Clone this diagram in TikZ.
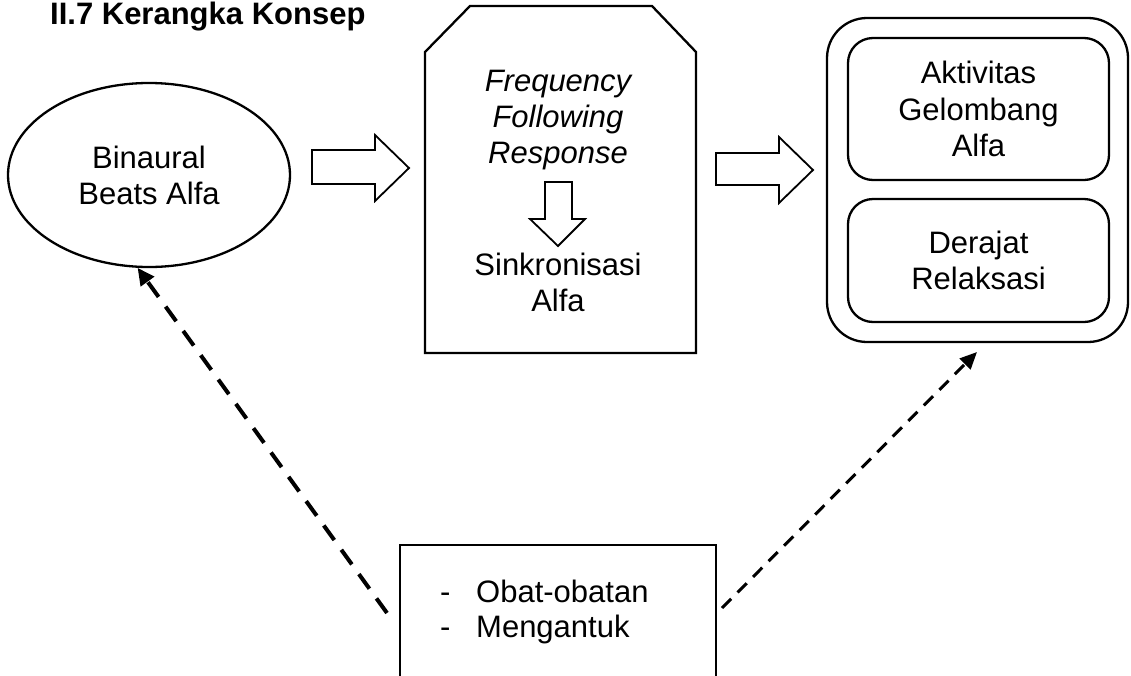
\documentclass[tikz,border=0pt]{standalone}
\usepackage{fontspec}
\setmainfont{Liberation Sans}
\usetikzlibrary{shapes.geometric,arrows.meta}
\begin{document}
\begin{tikzpicture}[x=1pt,y=-1pt,
  txt/.style={align=center,inner sep=0pt,font=\fontsize{31}{36}\selectfont},
  shapeline/.style={line width=2.3pt,draw=black},
  blockarrow/.style={line width=1.8pt,draw=black,fill=white,line join=miter},
  rbox/.style={shapeline,rounded corners=25pt,minimum width=261pt,minimum height=142pt,inner sep=0pt,align=center,font=\fontsize{31}{36.5}\selectfont},
  dashA/.style={line width=4pt,dash pattern=on 18pt off 12pt,-{Triangle[length=17pt,width=16pt]}},
  dashB/.style={line width=3pt,dash pattern=on 13pt off 9pt,-{Triangle[length=17pt,width=15pt]}}]
\useasboundingbox (0,0) rectangle (1131,675);
\fill[white] (0,0) rectangle (1131,675);

% title
\node[anchor=base west,inner sep=0pt,font=\bfseries\fontsize{31}{36}\selectfont] (title) at (50,24) {II.7 Kerangka Konsep};

% ellipse
\node[ellipse,shapeline,minimum width=282pt,minimum height=184pt,inner sep=0pt,txt] (ell) at (149,175) {Binaural\\Beats Alfa};

% middle shape
\coordinate (m1) at (425,353);
\coordinate (m2) at (425,52);
\coordinate (m3) at (470,6);
\coordinate (m4) at (652,6);
\coordinate (m5) at (696,52);
\coordinate (m6) at (696,353);
\draw[shapeline,line join=miter] (m1) -- (m2) -- (m3) -- (m4) -- (m5) -- (m6) -- cycle;
\node[txt,font=\itshape\fontsize{31}{36}\selectfont] (ffr) at (558,120) {Frequency\\Following\\Response};
\node[txt] (sink) at (558,282) {Sinkronisasi\\Alfa};

% block arrows
\draw[blockarrow] (312,150) -- (375,150) -- (375,135) -- (409,168) -- (375,201) -- (375,184) -- (312,184) -- cycle;
\draw[blockarrow] (716,153) -- (779,153) -- (779,137) -- (813,170) -- (779,203) -- (779,185) -- (716,185) -- cycle;
\draw[blockarrow] (545,182) -- (572,182) -- (572,219) -- (585,219) -- (558,246) -- (530,219) -- (545,219) -- cycle;

% right group
\node[shapeline,rounded corners=40pt,minimum width=301pt,minimum height=324pt,inner sep=0pt] (outer) at (977.5,180) {};
\node[rbox] (akt) at (978.5,109) {Aktivitas\\Gelombang\\Alfa};
\node[rbox,minimum height=123pt] (der) at (978.5,260.5) {Derajat\\Relaksasi};

% bottom box
\node[shapeline,minimum width=316pt,minimum height=300pt,inner sep=0pt] (fac) at (558,695) {};
\node[anchor=west,align=left,inner sep=0pt,font=\fontsize{31}{35}\selectfont] (factxt) at (440,611.5)
  {\makebox[36pt][l]{-}Obat-obatan\\\makebox[36pt][l]{-}Mengantuk};

% dashed connectors
\coordinate (d1) at (387,613);
\coordinate (d2) at (722,608);
\coordinate (t2) at (977,352);
\draw[dashA] (d1) -- (ell.263);
\draw[dashB] (d2) -- (t2);
\end{tikzpicture}
\end{document}
